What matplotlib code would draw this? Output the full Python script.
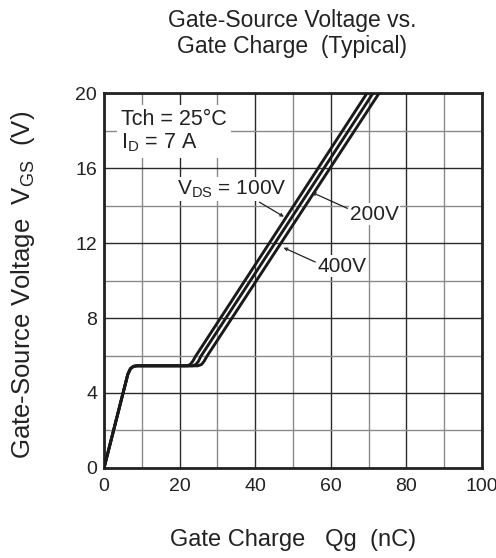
import matplotlib
matplotlib.use('Agg')
import matplotlib.pyplot as plt
from matplotlib.ticker import MultipleLocator

plt.rcParams['font.family'] = ['Liberation Sans', 'DejaVu Sans']
plt.rcParams['mathtext.fontset'] = 'custom'
plt.rcParams['mathtext.rm'] = 'Liberation Sans'

# gate charge (nC) vs gate-source voltage (V)
qg_100 = [0, 6.3, 7.0, 7.8, 8.7, 22.0, 22.8, 23.5, 24.2, 69.6]
vgs_100 = [0, 5.0, 5.3, 5.42, 5.45, 5.45, 5.52, 5.7, 5.95, 20]
qg_200 = [0, 6.3, 7.0, 7.8, 8.7, 23.4, 24.3, 25.0, 25.6, 71.2]
vgs_200 = [0, 5.0, 5.3, 5.42, 5.45, 5.45, 5.52, 5.7, 5.95, 20]
qg_400 = [0, 6.3, 7.0, 7.8, 8.7, 24.8, 25.8, 26.5, 27.2, 72.8]
vgs_400 = [0, 5.0, 5.3, 5.42, 5.45, 5.45, 5.52, 5.7, 5.95, 20]

TXT = '#222222'

fig = plt.figure(figsize=(4.96, 5.58), dpi=100)
ax = fig.add_axes([0.2097, 0.1613, 0.7621, 0.672])

for q, v in [(qg_100, vgs_100), (qg_200, vgs_200), (qg_400, vgs_400)]:
    ax.plot(q, v, color='#1a1a1a', lw=2.1, solid_joinstyle='round',
            solid_capstyle='butt', zorder=3)

ax.set_xlim(0, 100)
ax.set_ylim(0, 20)
ax.xaxis.set_major_locator(MultipleLocator(20))
ax.xaxis.set_minor_locator(MultipleLocator(10))
ax.yaxis.set_major_locator(MultipleLocator(4))
ax.yaxis.set_minor_locator(MultipleLocator(2))
ax.grid(which='major', color='#2a2a2a', lw=1.0)
ax.grid(which='minor', color='#8a8a8a', lw=1.0)
ax.set_axisbelow(True)
ax.tick_params(which='both', length=0, labelsize=14, colors=TXT)
ax.tick_params(axis='x', pad=7)
ax.tick_params(axis='y', pad=5)
for s in ax.spines.values():
    s.set_linewidth(2.0)
    s.set_color(TXT)

# axis labels and title
fig.text(0.59, 0.032, 'Gate Charge   Qg  (nC)', fontsize=17, color=TXT,
         ha='center', va='center')
fig.text(0.046, 0.489, r'Gate-Source Voltage  V$_\mathregular{GS}$  (V)',
         fontsize=18.5, color=TXT, ha='center', va='center', rotation=90)
fig.text(0.589, 0.94, 'Gate-Source Voltage vs.\nGate Charge  (Typical)',
         ha='center', va='center', fontsize=16.5, color=TXT,
         linespacing=1.15)

# condition box
ax.text(4.6, 17.95, 'Tch = 25\u00b0C\nI$_\\mathregular{D}$ = 7 A', fontsize=15.5,
        color=TXT, va='center', ha='left', linespacing=1.1,
        bbox=dict(facecolor='white', edgecolor='none', pad=3), zorder=4)

# curve labels
arrow = dict(arrowstyle='->', lw=0.9, color=TXT, mutation_scale=5,
             shrinkA=1, shrinkB=0)
ax.annotate(r'V$_\mathregular{DS}$ = 100V', xy=(47.6, 13.4), xytext=(19.3, 14.87),
            fontsize=15, color=TXT, va='center', ha='left',
            bbox=dict(facecolor='white', edgecolor='none', pad=1),
            arrowprops=dict(arrow, relpos=(0.72, 0.0)), zorder=4)
ax.annotate('200V', xy=(55.0, 14.7), xytext=(65.1, 13.53),
            fontsize=15, color=TXT, va='center', ha='left',
            bbox=dict(facecolor='white', edgecolor='none', pad=1),
            arrowprops=dict(arrow, relpos=(0.0, 0.75)), zorder=4)
ax.annotate('400V', xy=(47.5, 11.75), xytext=(56.6, 10.77),
            fontsize=15, color=TXT, va='center', ha='left',
            bbox=dict(facecolor='white', edgecolor='none', pad=1),
            arrowprops=dict(arrow, relpos=(0.0, 0.65)), zorder=4)

plt.savefig('out.png', dpi=100)
plt.close()
